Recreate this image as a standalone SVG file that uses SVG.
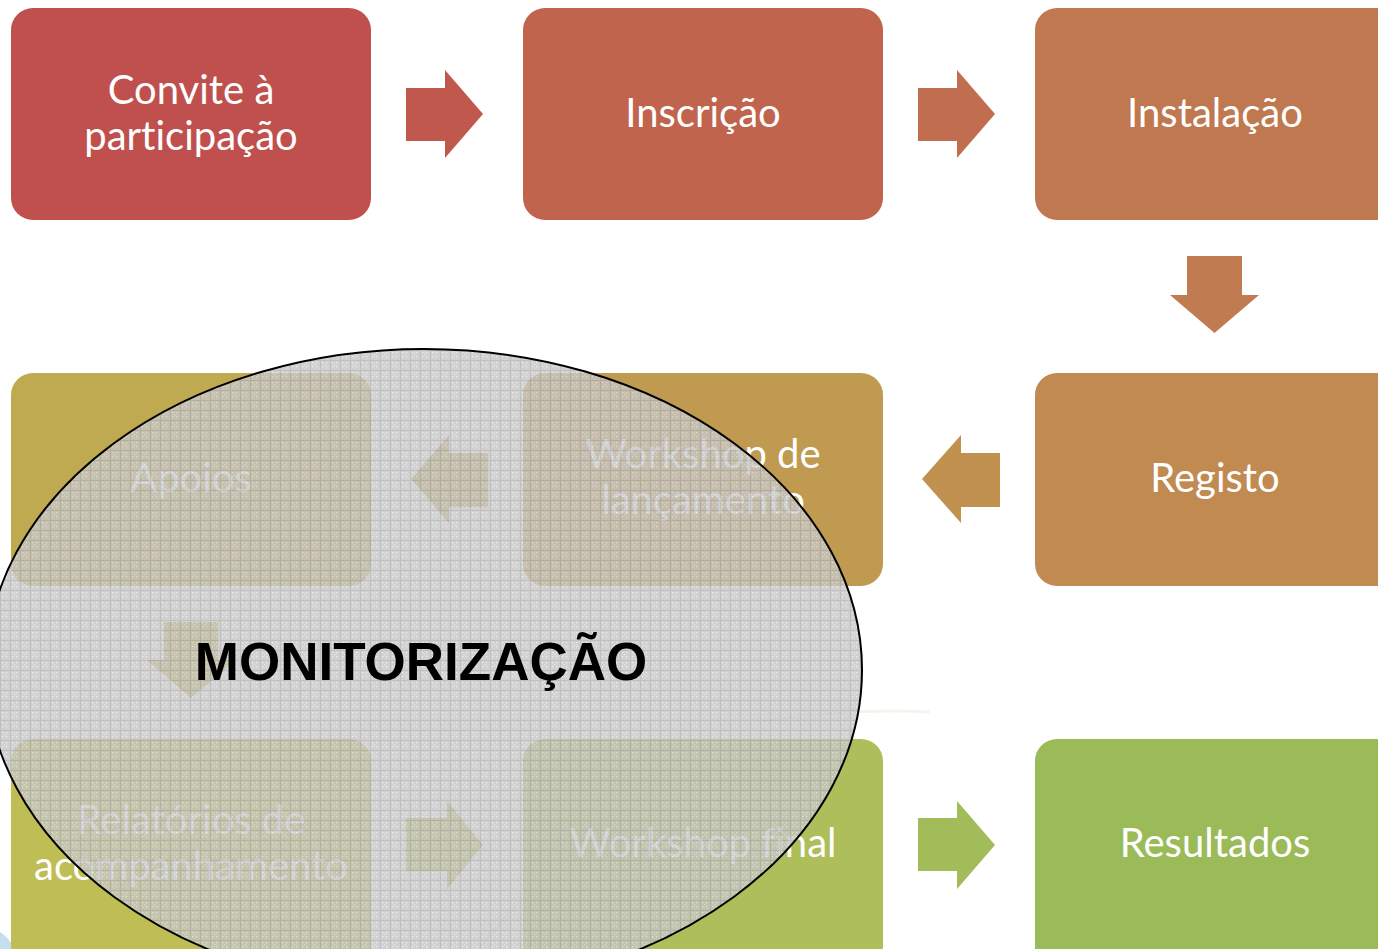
<svg xmlns="http://www.w3.org/2000/svg" width="1378" height="949" viewBox="0 0 1378 949">
<style>
.t{font-family:Lato,"Open Sans","Liberation Sans",sans-serif;font-size:40px;fill:#ffffff;text-anchor:middle;font-variant-ligatures:none}
.m{font-family:"Liberation Sans",Arial,sans-serif;font-weight:bold;font-size:53px;fill:#000000;text-anchor:middle}
</style>
<defs>
<pattern id="grid" width="10" height="10" patternUnits="userSpaceOnUse">
<rect width="10" height="10" fill="#c6c6c6"/>
<rect x="2" y="2" width="1.2" height="1.2" fill="#ebebeb"/>
<rect x="6" y="2" width="1.2" height="1.2" fill="#ebebeb"/>
<rect x="2" y="6" width="1.2" height="1.2" fill="#ebebeb"/>
<rect x="6" y="6" width="1.2" height="1.2" fill="#ebebeb"/>
<rect x="4" y="4" width="1.2" height="1.2" fill="#dedede"/>
<path d="M0 0.5H10M0.5 0V10" stroke="#b0b0b0" stroke-width="1"/>
</pattern>
</defs>
<rect width="1378" height="949" fill="#ffffff"/>
<g id="background" fill="none" opacity="0.45">
<path d="M760 722 Q840 708 930 712" stroke="#e4ead6" stroke-width="3"/>
<path d="M478 949 L522 898" stroke="#e0e6d2" stroke-width="3"/>
<path d="M0 932 Q10 938 14 949 L0 949 Z" fill="#7fb6dc" stroke="none"/>
</g>
<g id="node-convite">
<rect x="11" y="8" width="360" height="212" rx="22" fill="#C0504D"/>
<text class="t" x="191" y="104">Convite à</text>
<text class="t" x="191" y="150">participação</text>
</g>
<g id="node-inscricao">
<rect x="523" y="8" width="360" height="212" rx="22" fill="#C0644E"/>
<text class="t" x="703" y="127">Inscrição</text>
</g>
<g id="node-instalacao">
<rect x="1035" y="8" width="370" height="212" rx="22" fill="#BF784F"/>
<text class="t" x="1215" y="127">Instalação</text>
</g>
<g id="node-registo">
<rect x="1035" y="373" width="370" height="213" rx="22" fill="#C08A51"/>
<text class="t" x="1215" y="492">Registo</text>
</g>
<g id="node-workshop-lancamento">
<rect x="523" y="373" width="360" height="213" rx="22" fill="#BF9A50"/>
<text class="t" x="703" y="468">Workshop de</text>
<text class="t" x="703" y="514">lançamento</text>
</g>
<g id="node-apoios">
<rect x="11" y="373" width="360" height="213" rx="22" fill="#BFAA52"/>
<text class="t" x="191" y="492">Apoios</text>
</g>
<g id="node-relatorios">
<rect x="11" y="739" width="360" height="230" rx="22" fill="#BFBE55"/>
<text class="t" x="191" y="834">Relatórios de</text>
<text class="t" x="191" y="880">acompanhamento</text>
</g>
<g id="node-workshop-final">
<rect x="523" y="739" width="360" height="230" rx="22" fill="#ADBE5A"/>
<text class="t" x="703" y="857">Workshop final</text>
</g>
<g id="node-resultados">
<rect x="1035" y="739" width="370" height="230" rx="22" fill="#9BBB59"/>
<text class="t" x="1215" y="857">Resultados</text>
</g>
<g id="connectors">
<polygon points="406,88 445,88 445,70 483,114 445,158 445,141 406,141" fill="#C0584E"/>
<polygon points="918,88 957,88 957,70 995,114 957,158 957,141 918,141" fill="#C06E4F"/>
<polygon points="1187,256 1242,256 1242,295 1259,295 1214.5,333 1170,295 1187,295" fill="#C07B50"/>
<polygon points="1000,453 961,453 961,435 922,479 961,523 961,507 1000,507" fill="#C0914F"/>
<polygon points="488,453 449,453 449,435 411,479 449,523 449,507 488,507" fill="#BFA251"/>
<polygon points="164,622 218,622 218,660 236,660 191,698 147,660 164,660" fill="#BFB454"/>
<polygon points="406,818 447,818 447,801 483,845 447,889 447,871 406,871" fill="#B6BF58"/>
<polygon points="918,818 957,818 957,801 995,845 957,889 957,871 918,871" fill="#A2BC5A"/>
</g>
<g id="node-monitorizacao">
<ellipse cx="424" cy="670" rx="438" ry="321" fill="url(#grid)" opacity="0.8"/>
<ellipse cx="424" cy="670" rx="438" ry="321" fill="none" stroke="#000000" stroke-width="2"/>
<text class="m" x="421" y="680">MONITORIZAÇÃO</text>
</g>
</svg>
